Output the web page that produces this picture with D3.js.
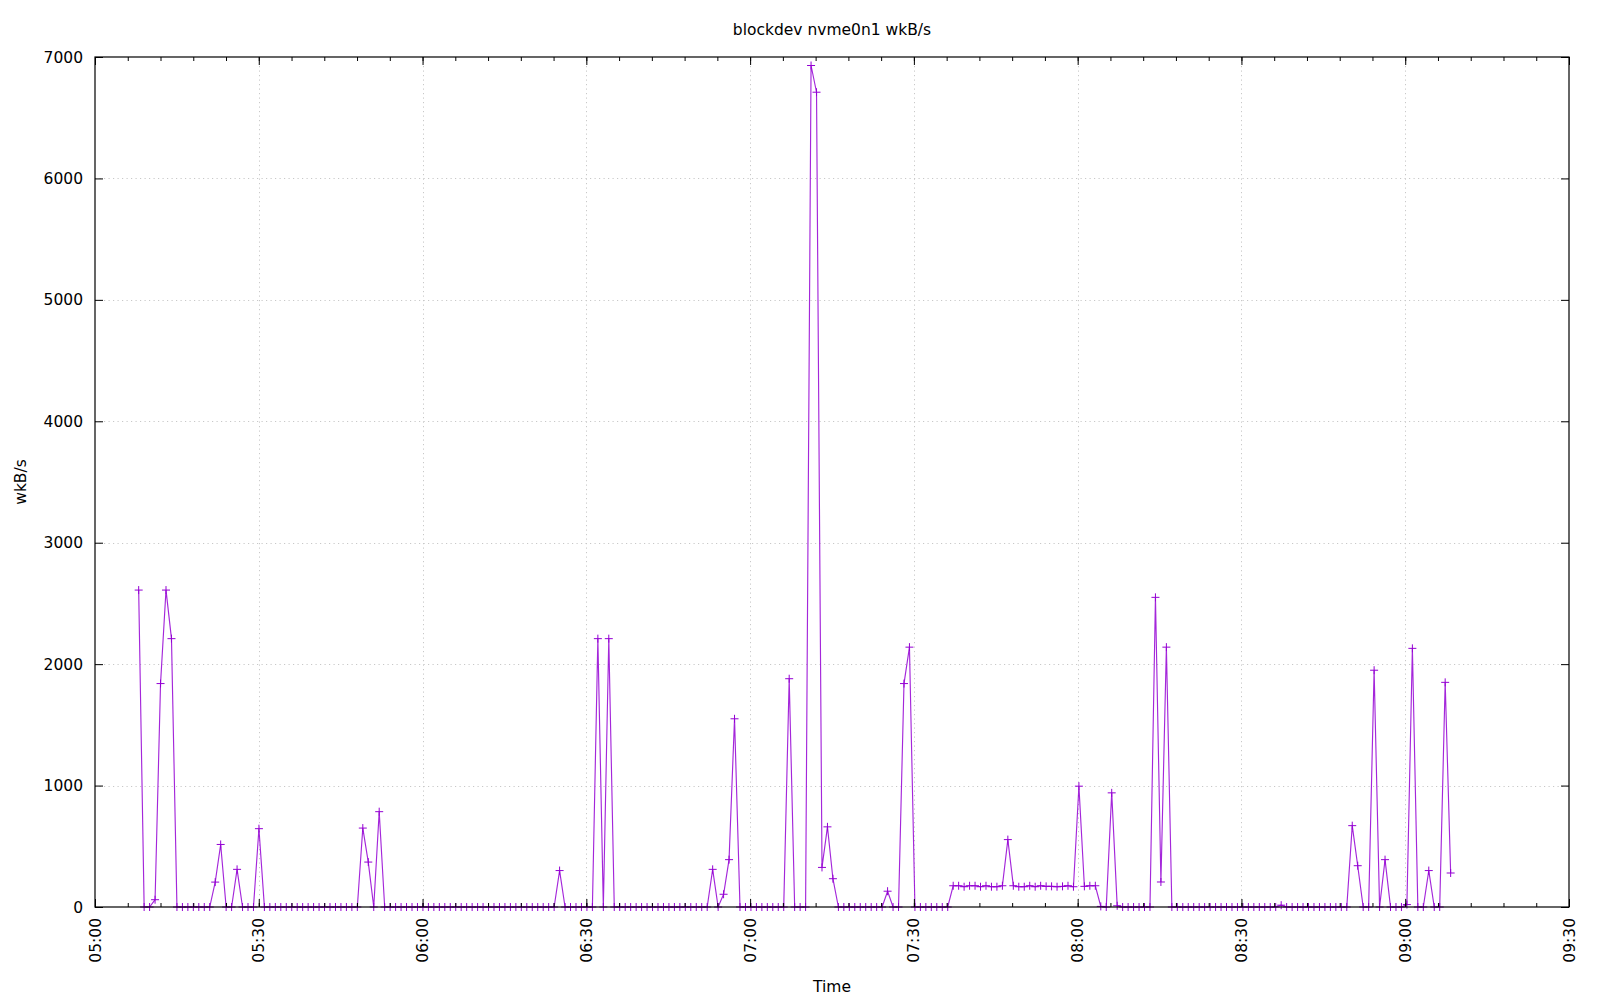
<!DOCTYPE html>
<html>
<head>
<meta charset="utf-8">
<script src="https://cdn.jsdelivr.net/npm/d3@7"></script>
<style>
  html, body { margin: 0; padding: 0; background: #fff; }
  svg { display: block; font-family: "DejaVu Sans", sans-serif; }
</style>
</head>
<body>
<script>
// ---- data ----
const chartTitle = "blockdev nvme0n1 wkB/s";
const xLabel = "Time";
const yLabel = "wkB/s";
const startTime = "05:08";      // first sample
const sampleSeconds = 60.08;    // sampling interval (slightly over a minute)
const wkBs = [
  2610, 0, 0, 60, 1840, 2610, 2210, 0, 0, 0, 0, 0, 0, 0, 205, 515, 0, 0, 310, 0, 0, 0, 645,
  0, 0, 0, 0, 0, 0, 0, 0, 0, 0, 0, 0, 0, 0, 0, 0, 0,
  0, 650, 370, 0, 785, 0,
  0, 0, 0, 0, 0, 0, 0, 0, 0, 0, 0, 0, 0, 0, 0, 0, 0, 0, 0, 0, 0, 0, 0, 0, 0, 0, 0, 0, 0, 0, 0,
  300, 0, 0, 0, 0, 0, 0, 2210, 0, 2210,
  0, 0, 0, 0, 0, 0, 0, 0, 0, 0, 0, 0, 0, 0, 0, 0, 0, 0,
  310, 0, 105, 390, 1550,
  0, 0, 0, 0, 0, 0, 0, 0, 0,
  1880, 0, 0, 0, 6930, 6710, 326, 660, 233,
  0, 0, 0, 0, 0, 0, 0, 0, 0,
  130, 0, 0, 1840, 2140,
  0, 0, 0, 0, 0, 0, 0,
  175, 175, 167, 175, 175, 167, 175, 167, 167, 175,
  555,
  175, 167, 167, 175, 167, 175, 170, 170, 167, 170, 175, 167,
  995, 170, 175, 175, 5, 0, 940, 10,
  0, 0, 0, 0, 0, 0,
  2550, 206, 2140,
  0, 0, 0, 0, 0, 0, 0, 0, 0, 0, 0, 0, 0, 0, 0, 0, 0, 0, 0, 0,
  15,
  0, 0, 0, 0, 0, 0, 0, 0, 0, 0, 0, 0,
  670, 340, 0, 0, 1950, 0, 390, 0, 0, 0, 20, 2130, 0, 0, 300, 0, 0, 1850, 280
];
const xDomain = ["05:00", "09:30"];
const yTicks = [0, 1000, 2000, 3000, 4000, 5000, 6000, 7000];
const xTickLabels = ["05:00", "05:30", "06:00", "06:30", "07:00", "07:30", "08:00", "08:30", "09:00", "09:30"];

// ---- layout ----
const W = 1600, H = 1000;
const M = { left: 95, right: 1569, top: 57, bottom: 907 };
const color = "#9400d3";
const parse = d3.timeParse("%H:%M");

const t0 = parse(startTime);
const data = wkBs.map((v, i) => ({ t: new Date(t0.getTime() + i * sampleSeconds * 1000), v }));

const x = d3.scaleTime().domain(xDomain.map(parse)).range([M.left, M.right]);
const y = d3.scaleLinear().domain([0, 7000]).range([M.bottom, M.top]);

const svg = d3.select("body").append("svg").attr("width", W).attr("height", H);

// grid
const xMajor = xTickLabels.map(parse);
const grid = svg.append("g").attr("stroke", "#c8c8c8").attr("stroke-width", 1)
  .attr("stroke-dasharray", "1.2,3.3").attr("fill", "none");
grid.selectAll("line.gx").data(xMajor.slice(1, -1)).join("line")
  .attr("x1", d => Math.round(x(d)) + 0.5).attr("x2", d => Math.round(x(d)) + 0.5)
  .attr("y1", M.top).attr("y2", M.bottom);
grid.selectAll("line.gy").data(yTicks.slice(1, -1)).join("line")
  .attr("y1", d => Math.round(y(d)) + 0.5).attr("y2", d => Math.round(y(d)) + 0.5)
  .attr("x1", M.left).attr("x2", M.right);

// data line
const line = d3.line().x(d => x(d.t)).y(d => y(d.v));
svg.append("path").datum(data).attr("d", line)
  .attr("fill", "none").attr("stroke", color).attr("stroke-width", 1.15).attr("stroke-opacity", 0.85);

// markers "+"
const ms = 4;
svg.append("g").attr("stroke", color).attr("stroke-width", 1)
  .selectAll("path").data(data).join("path")
  .attr("d", d => {
    const px = x(d.t), py = y(d.v);
    return `M${px - ms},${py}H${px + ms}M${px},${py - ms}V${py + ms}`;
  });

// axes using d3 axis generators (ticks inward)
const xMinor = d3.timeMinute.every(6).range(parse(xDomain[0]), d3.timeMinute.offset(parse(xDomain[1]), 1));
const axB = svg.append("g").attr("transform", `translate(0,${M.bottom})`)
  .call(d3.axisBottom(x).tickValues(xMinor).tickSize(-4).tickFormat(""));
const axBM = svg.append("g").attr("transform", `translate(0,${M.bottom})`)
  .call(d3.axisBottom(x).tickValues(xMajor).tickSize(-8).tickFormat(""));
const axT = svg.append("g").attr("transform", `translate(0,${M.top})`)
  .call(d3.axisTop(x).tickValues(xMinor).tickSize(-4).tickFormat(""));
const axTM = svg.append("g").attr("transform", `translate(0,${M.top})`)
  .call(d3.axisTop(x).tickValues(xMajor).tickSize(-8).tickFormat(""));
const axL = svg.append("g").attr("transform", `translate(${M.left},0)`)
  .call(d3.axisLeft(y).tickValues(yTicks).tickSize(-8).tickFormat(""));
const axR = svg.append("g").attr("transform", `translate(${M.right},0)`)
  .call(d3.axisRight(y).tickValues(yTicks).tickSize(-8).tickFormat(""));
[axB, axBM, axT, axTM, axL, axR].forEach(g => {
  g.select(".domain").remove();
  g.selectAll("line").attr("stroke", "#000").attr("stroke-width", 1);
});

// border
svg.append("rect").attr("x", M.left).attr("y", M.top)
  .attr("width", M.right - M.left).attr("height", M.bottom - M.top)
  .attr("fill", "none").attr("stroke", "#000").attr("stroke-width", 1.2);

const fs = 15.5;
// y tick labels
svg.append("g").selectAll("text").data(yTicks).join("text")
  .attr("x", 83).attr("y", d => y(d)).attr("dy", "0.36em")
  .attr("text-anchor", "end").attr("font-size", fs).attr("fill", "#000")
  .text(d => d);

// x tick labels (rotated)
svg.append("g").selectAll("text").data(xTickLabels).join("text")
  .attr("transform", d => `translate(${x(parse(d))},918) rotate(-90)`)
  .attr("dy", "0.36em").attr("text-anchor", "end")
  .attr("font-size", fs).attr("fill", "#000")
  .text(d => d);

// title & labels
svg.append("text").attr("x", (M.left + M.right) / 2).attr("y", 35)
  .attr("text-anchor", "middle").attr("font-size", fs).text(chartTitle);
svg.append("text").attr("x", (M.left + M.right) / 2).attr("y", 992)
  .attr("text-anchor", "middle").attr("font-size", fs).text(xLabel);
svg.append("text").attr("transform", `translate(20,${(M.top + M.bottom) / 2}) rotate(-90)`)
  .attr("dy", "0.36em").attr("text-anchor", "middle").attr("font-size", fs).text(yLabel);
</script>
</body>
</html>
